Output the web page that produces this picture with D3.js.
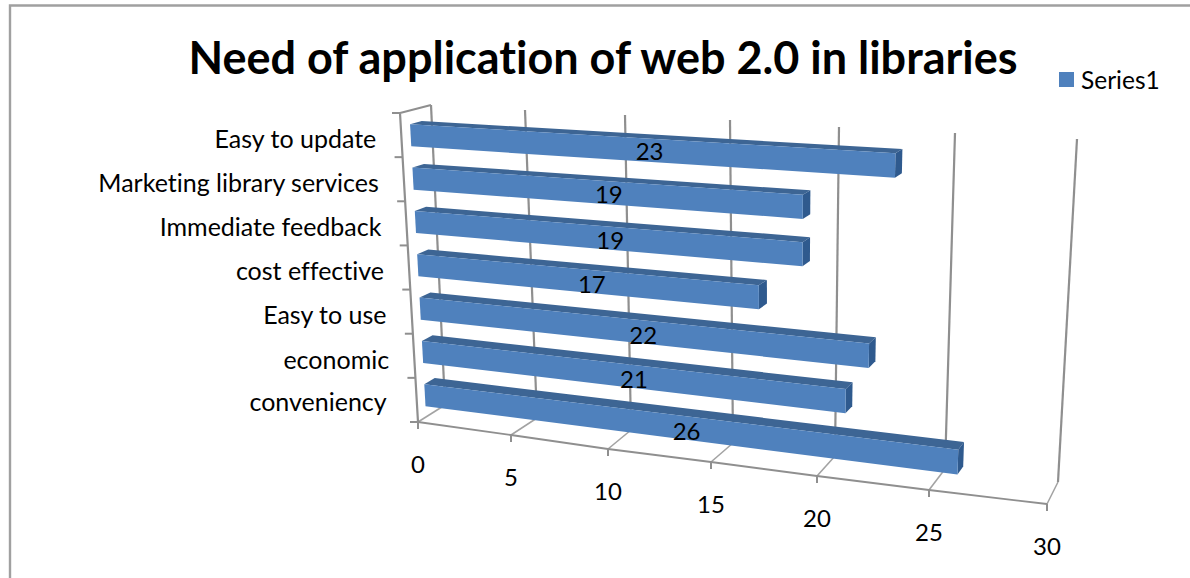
<!DOCTYPE html>
<html><head><meta charset="utf-8">
<script src="https://cdn.jsdelivr.net/npm/d3@7"></script>
<style>html,body{margin:0;padding:0;background:#fff}svg{display:block}text{font-family:Lato,"Open Sans",sans-serif;fill:#000;font-variant-ligatures:none;font-kerning:normal}</style>
</head><body><svg id="c" width="1190" height="578"></svg>
<script>
const categories=["conveniency","economic","Easy to use","cost effective","Immediate feedback","Marketing library services","Easy to update"];
const values=[26,21,22,17,19,19,23];
const valueTicks=[0,5,10,15,20,25,30];
const seriesName="Series1";
const titleText="Need of application of web 2.0 in libraries";

const svg=d3.select("#c");
// perspective calibration: value -> pixel on the floor front, floor back and wall top
const sc=r=>d3.scaleLinear().domain(valueTicks).range(r);
const fx=sc([418,511,608,711,817,929,1047]), fy=sc([422,435,449,462,476,490,504]);
const bx=sc([445,537,631,733,835,945,1058]), by=sc([405,418,430,443,456,469,482]);
const tx=sc([431,525,625,730,839,955,1077]), ty=sc([105,110,115,120,127,133,139]);
const ftx=sc([400,496,597,706,820,937,1068]), fty=sc([113,118,123,129,137,144,148]);
const band=d3.scaleBand().domain(categories).range([0,1]);
const barBand=d3.scaleBand().domain(categories).range([0,.99]);
const lerp=(a,b,t)=>a+(b-a)*t;
function P(v,z,d){
  const x0=lerp(fx(v),bx(v),d),y0=lerp(fy(v),by(v),d);
  const x1=lerp(ftx(v),tx(v),d),y1=lerp(fty(v),ty(v),d);
  return [lerp(x0,x1,z),lerp(y0,y1,z)];
}
const line=d3.line();
const poly=(pts,fill)=>svg.append("path").attr("d",line(pts)+"Z").attr("fill",fill);
const seg=(pts,col,w)=>svg.append("path").attr("d",line(pts)).attr("fill","none").attr("stroke",col).attr("stroke-width",w);

// outer frame
seg([[1190,5.5],[10,5.5],[10,578]],"#a0a0a0",2.4);

// gridlines on back wall
valueTicks.forEach(v=>seg([P(v,0,1),P(v,1,1)],"#8f8f8f",2.2));
// floor
valueTicks.forEach(v=>seg([P(v,0,0),P(v,0,1)],"#a3a3a3",1.6));
seg(valueTicks.map(v=>P(v,0,0)),"#8f8f8f",1.8);
valueTicks.forEach(v=>{const p=P(v,0,0);seg([p,[p[0],p[1]+7]],"#8f8f8f",2)});
// left wall
seg([P(0,0,0),P(0,1,0),P(0,1,1)],"#8f8f8f",2.2);
d3.range(0,8).forEach(i=>{const p=P(0,i/7,0);seg([p,[p[0]-8,p[1]]],"#8f8f8f",2)});

// bars, back to front
const dF=.3,dB=.68,half=.036;
for(let i=categories.length-1;i>=0;i--){
  const c=categories[i],v=values[i],z=barBand(c)+barBand.bandwidth()/2;
  const zb=z-half,zt=z+half;
  poly([P(0,zt,dF),P(0,zt,dB),P(v,zt,dB),P(v,zt,dF)],"#3d6594");
  poly([P(v,zb,dF),P(v,zb,dB),P(v,zt,dB),P(v,zt,dF)],"#2f5a8e");
  poly([P(0,zb,dF),P(v,zb,dF),P(v,zt,dF),P(0,zt,dF)],"#4f81bd");
}
// data labels
values.forEach((v,i)=>{
  const z=band(categories[i])+band.bandwidth()/2,p=P(v/2,z,.5);
  svg.append("text").attr("x",p[0]+6).attr("y",p[1]+8).attr("dy",".35em").attr("text-anchor","middle").attr("font-size",24).text(v);
});
// category labels
categories.forEach((c,i)=>{
  const z=band(c)+band.bandwidth()/2,p=P(0,z,0);
  const first=i===0;
  svg.append("text").attr("x",p[0]-(first?30:25)).attr("y",p[1]+(first?2:4)).attr("dy",".35em").attr("text-anchor","end").attr("font-size",25).text(c);
});
// value tick labels
valueTicks.forEach(v=>{
  const p=P(v,0,0);
  svg.append("text").attr("x",p[0]).attr("y",p[1]+43).attr("dy",".35em").attr("text-anchor","middle").attr("font-size",24).text(v);
});
// title
svg.append("text").attr("x",603).attr("y",58).attr("dy",".35em").attr("text-anchor","middle").attr("font-size",45).attr("font-weight",700).text(titleText);
// legend
svg.append("rect").attr("x",1059).attr("y",72).attr("width",15).attr("height",15).attr("fill","#4f81bd");
svg.append("text").attr("x",1081).attr("y",80).attr("dy",".35em").attr("font-size",24.5).text(seriesName);
</script></body></html>
